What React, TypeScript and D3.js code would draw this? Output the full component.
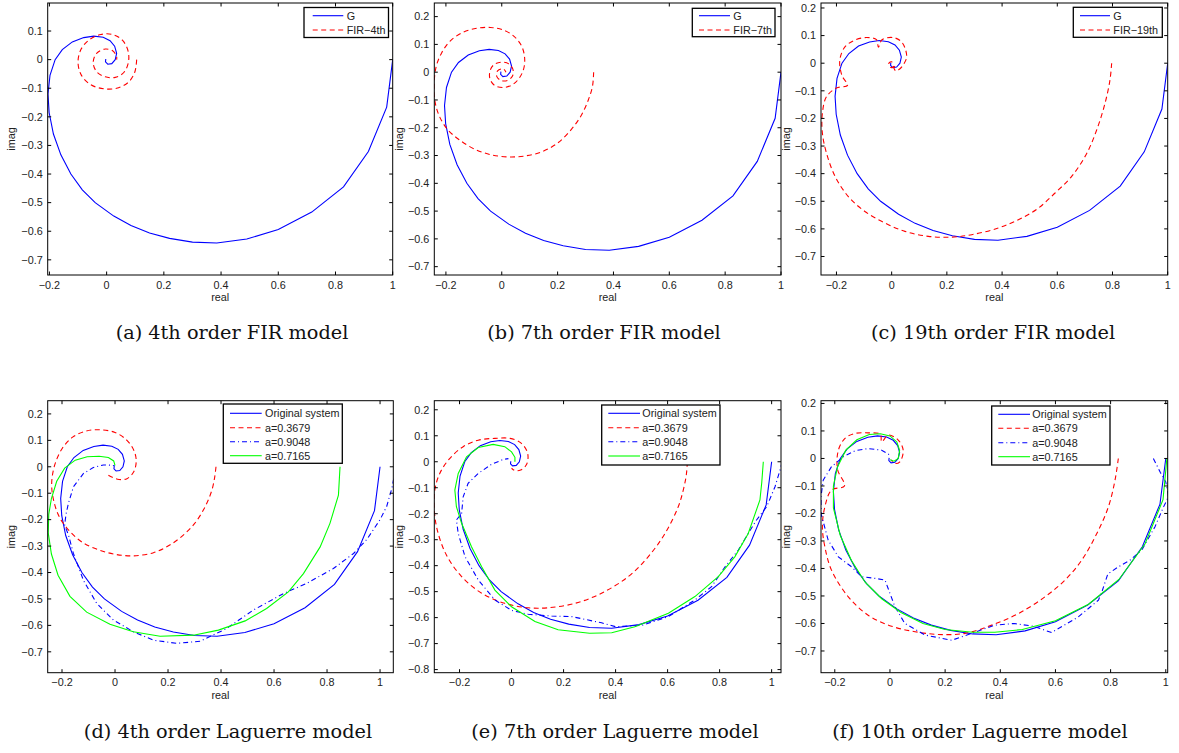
import React from 'react';
import * as d3 from 'd3';

type Pt = [number, number];

// frequency response of the true system (same in every panel)
const G: Pt[] = [
  [1.0, 0.0], [0.979, -0.166], [0.915, -0.321], [0.828, -0.445], [0.717, -0.533],
  [0.6, -0.594], [0.49, -0.627], [0.385, -0.641], [0.3, -0.638], [0.22, -0.625],
  [0.15, -0.606], [0.085, -0.58], [0.025, -0.547], [-0.04, -0.5], [-0.085, -0.455],
  [-0.125, -0.4], [-0.16, -0.333], [-0.186, -0.26], [-0.201, -0.185], [-0.205, -0.12],
  [-0.198, -0.055], [-0.18, 0.0], [-0.155, 0.035], [-0.12, 0.062], [-0.08, 0.077],
  [-0.045, 0.082], [-0.012, 0.078], [0.012, 0.066], [0.028, 0.047], [0.035, 0.022],
  [0.03, 0.0], [0.018, -0.014], [0.004, -0.016], [-0.004, -0.008], [-0.003, 0.002],
];

// FIR models
const FIR4: Pt[] = [
  [0.105, 0.0], [0.098, -0.045], [0.075, -0.08], [0.035, -0.1], [-0.01, -0.102],
  [-0.055, -0.088], [-0.088, -0.055], [-0.1, -0.01], [-0.09, 0.035], [-0.06, 0.07],
  [-0.02, 0.088], [0.02, 0.088], [0.055, 0.068], [0.075, 0.03], [0.076, -0.01],
  [0.06, -0.045], [0.03, -0.062], [-0.005, -0.06], [-0.035, -0.042], [-0.047, -0.01],
  [-0.035, 0.022], [-0.005, 0.037], [0.022, 0.03], [0.035, 0.01], [0.035, 0.0],
];
const FIR7: Pt[] = [
  [0.329, 0.0], [0.325, -0.05], [0.31, -0.1], [0.285, -0.155], [0.25, -0.205],
  [0.2, -0.255], [0.14, -0.288], [0.08, -0.302], [0.025, -0.305], [-0.035, -0.298],
  [-0.095, -0.278], [-0.15, -0.245], [-0.195, -0.205], [-0.225, -0.155], [-0.24, -0.1],
  [-0.242, -0.04], [-0.235, 0.02], [-0.215, 0.07], [-0.185, 0.112], [-0.14, 0.143],
  [-0.09, 0.158], [-0.04, 0.161], [0.005, 0.152], [0.045, 0.128], [0.072, 0.092],
  [0.082, 0.05], [0.078, 0.01], [0.06, -0.025], [0.035, -0.047], [0.005, -0.055],
  [-0.025, -0.048], [-0.042, -0.025], [-0.042, 0.005], [-0.028, 0.027], [-0.002, 0.036],
  [0.025, 0.03], [0.04, 0.01], [0.038, -0.015], [0.02, -0.03], [-0.002, -0.03],
  [-0.018, -0.015], [-0.015, 0.005], [0.005, 0.012], [0.015, 0.0],
];
const FIR19: Pt[] = [
  [0.797, 0.0], [0.791, -0.06], [0.773, -0.145], [0.743, -0.241], [0.707, -0.326],
  [0.652, -0.41], [0.592, -0.47], [0.531, -0.525], [0.459, -0.567], [0.386, -0.597],
  [0.29, -0.621], [0.217, -0.63], [0.133, -0.627], [0.048, -0.609], [-0.024, -0.579],
  [-0.097, -0.537], [-0.157, -0.483], [-0.205, -0.41], [-0.236, -0.326], [-0.251, -0.253],
  [-0.251, -0.181], [-0.236, -0.121], [-0.2, -0.09], [-0.16, -0.08], [-0.18, -0.045],
  [-0.188, 0.01], [-0.17, 0.058], [-0.135, 0.083], [-0.09, 0.093], [-0.055, 0.085],
  [-0.048, 0.058], [-0.035, 0.085], [0.005, 0.093], [0.035, 0.078], [0.05, 0.05],
  [0.054, 0.02], [0.042, -0.006], [0.03, -0.02], [0.015, -0.028], [0.005, -0.01],
  [0.0, 0.005], [-0.01, 0.0], [-0.005, -0.015], [0.01, -0.012], [0.02, 0.0],
];

// Laguerre models, 4th order
const LAG4_R: Pt[] = [
  [0.381, 0.0], [0.376, -0.04], [0.365, -0.09], [0.34, -0.151], [0.3, -0.215],
  [0.25, -0.265], [0.2, -0.3], [0.145, -0.325], [0.069, -0.337], [0.0, -0.331],
  [-0.06, -0.315], [-0.12, -0.288], [-0.17, -0.245], [-0.21, -0.19], [-0.232, -0.125],
  [-0.239, -0.063], [-0.228, 0.005], [-0.2, 0.068], [-0.16, 0.112], [-0.11, 0.135],
  [-0.057, 0.14], [0.0, 0.13], [0.045, 0.1], [0.072, 0.06], [0.08, 0.02],
  [0.07, -0.02], [0.045, -0.045], [0.015, -0.048], [-0.01, -0.04], [-0.025, -0.032],
];
const LAG4_B: Pt[] = [
  [1.06, 0.0], [1.045, -0.08], [1.025, -0.15], [1.0, -0.2], [0.95, -0.275],
  [0.9, -0.328], [0.824, -0.385], [0.723, -0.441], [0.635, -0.48], [0.522, -0.542],
  [0.421, -0.612], [0.321, -0.66], [0.233, -0.668], [0.145, -0.656], [0.069, -0.624],
  [-0.006, -0.58], [-0.069, -0.517], [-0.119, -0.43], [-0.157, -0.328], [-0.175, -0.26],
  [-0.19, -0.22], [-0.185, -0.18], [-0.176, -0.139], [-0.157, -0.076], [-0.119, -0.025],
  [-0.082, -0.003], [-0.044, 0.007], [-0.015, 0.006], [0.0, 0.003],
];
const LAG4_G: Pt[] = [
  [0.849, 0.0], [0.843, -0.107], [0.811, -0.214], [0.774, -0.303], [0.711, -0.404],
  [0.654, -0.473], [0.572, -0.536], [0.491, -0.583], [0.39, -0.618], [0.296, -0.637],
  [0.17, -0.641], [0.069, -0.624], [-0.019, -0.596], [-0.107, -0.55], [-0.17, -0.49],
  [-0.215, -0.41], [-0.24, -0.33], [-0.252, -0.25], [-0.25, -0.18], [-0.24, -0.12],
  [-0.22, -0.055], [-0.19, -0.005], [-0.15, 0.025], [-0.105, 0.038], [-0.06, 0.04],
  [-0.025, 0.035], [-0.005, 0.022], [0.0, 0.005],
];

// Laguerre models, 7th order
const LAG7_R: Pt[] = [
  [0.676, 0.0], [0.672, -0.05], [0.66, -0.11], [0.641, -0.173], [0.59, -0.276],
  [0.526, -0.365], [0.449, -0.442], [0.346, -0.506], [0.244, -0.545], [0.141, -0.562],
  [0.064, -0.562], [-0.026, -0.545], [-0.115, -0.506], [-0.192, -0.442], [-0.25, -0.36],
  [-0.285, -0.265], [-0.297, -0.186], [-0.295, -0.109], [-0.276, -0.045], [-0.24, 0.01],
  [-0.186, 0.058], [-0.128, 0.083], [-0.064, 0.09], [-0.006, 0.09], [0.038, 0.071],
  [0.062, 0.032], [0.058, -0.01], [0.035, -0.032], [0.013, -0.034], [0.0, -0.025],
];
const LAG7_B: Pt[] = [
  [1.04, 0.0], [1.036, -0.02], [1.013, -0.096], [0.981, -0.173], [0.942, -0.224],
  [0.91, -0.276], [0.872, -0.34], [0.821, -0.404], [0.769, -0.481], [0.705, -0.532],
  [0.603, -0.596], [0.5, -0.63], [0.4, -0.635], [0.346, -0.62], [0.231, -0.596],
  [0.154, -0.594], [0.064, -0.587], [0.0, -0.572], [-0.064, -0.532], [-0.128, -0.455],
  [-0.179, -0.365], [-0.205, -0.276], [-0.212, -0.224], [-0.192, -0.199], [-0.186, -0.135],
  [-0.167, -0.083], [-0.128, -0.045], [-0.077, -0.01], [-0.032, 0.009], [-0.012, 0.012],
];
const LAG7_G: Pt[] = [
  [0.968, 0.0], [0.962, -0.08], [0.955, -0.147], [0.91, -0.276], [0.859, -0.365],
  [0.795, -0.442], [0.705, -0.519], [0.603, -0.583], [0.474, -0.635], [0.385, -0.658],
  [0.3, -0.66], [0.179, -0.647], [0.09, -0.615], [0.0, -0.558], [-0.064, -0.494],
  [-0.115, -0.404], [-0.154, -0.327], [-0.192, -0.237], [-0.212, -0.173], [-0.218, -0.109],
  [-0.205, -0.045], [-0.173, 0.019], [-0.128, 0.055], [-0.071, 0.067], [-0.026, 0.058],
  [0.0, 0.038], [0.013, 0.017], [0.013, 0.0],
];

// Laguerre models, 10th order
const LAG10_R: Pt[] = [
  [0.828, 0.0], [0.816, -0.079], [0.792, -0.176], [0.75, -0.273], [0.695, -0.37],
  [0.635, -0.442], [0.562, -0.503], [0.466, -0.564], [0.369, -0.606], [0.272, -0.636],
  [0.175, -0.64], [0.091, -0.63], [0.006, -0.61], [-0.079, -0.57], [-0.151, -0.503],
  [-0.212, -0.406], [-0.236, -0.321], [-0.245, -0.248], [-0.236, -0.176], [-0.212, -0.115],
  [-0.165, -0.1], [-0.19, -0.04], [-0.187, 0.03], [-0.163, 0.073], [-0.127, 0.091],
  [-0.079, 0.093], [-0.035, 0.088], [-0.03, 0.06], [-0.006, 0.085], [0.03, 0.067],
  [0.048, 0.03], [0.036, -0.012], [0.018, -0.018], [0.005, -0.005],
];
const LAG10_B: Pt[] = [
  [0.955, 0.0], [0.98, -0.05], [1.0, -0.085], [1.01, -0.139], [0.992, -0.176],
  [0.961, -0.248], [0.913, -0.333], [0.87, -0.37], [0.828, -0.394], [0.79, -0.42],
  [0.77, -0.48], [0.756, -0.515], [0.683, -0.576], [0.586, -0.633], [0.52, -0.61],
  [0.45, -0.6], [0.381, -0.606], [0.296, -0.636], [0.224, -0.661], [0.127, -0.642],
  [0.054, -0.6], [0.018, -0.539], [-0.018, -0.442], [-0.054, -0.436], [-0.103, -0.43],
  [-0.139, -0.394], [-0.187, -0.358], [-0.224, -0.297], [-0.25, -0.2], [-0.25, -0.139],
  [-0.242, -0.079], [-0.212, -0.03], [-0.169, 0.006], [-0.127, 0.028], [-0.079, 0.036],
  [-0.03, 0.03], [0.0, 0.012],
];
const LAG10_G: Pt[] = [
  [1.004, 0.0], [0.99, -0.15], [0.925, -0.31], [0.83, -0.44], [0.72, -0.53],
  [0.6, -0.59], [0.48, -0.622], [0.38, -0.632], [0.3, -0.632], [0.2, -0.622],
  [0.12, -0.6], [0.04, -0.56], [-0.03, -0.51], [-0.09, -0.45], [-0.14, -0.37],
  [-0.18, -0.28], [-0.205, -0.18], [-0.205, -0.1], [-0.19, -0.03], [-0.16, 0.03],
  [-0.12, 0.068], [-0.075, 0.087], [-0.035, 0.09], [0.0, 0.082], [0.025, 0.06],
  [0.035, 0.03], [0.03, 0.0], [0.015, -0.01], [0.0, -0.005],
];

const X_TICKS = [-0.2, 0, 0.2, 0.4, 0.6, 0.8, 1];
const Y_TICKS_A = [-0.7, -0.6, -0.5, -0.4, -0.3, -0.2, -0.1, 0, 0.1];
const Y_TICKS = [-0.7, -0.6, -0.5, -0.4, -0.3, -0.2, -0.1, 0, 0.1, 0.2];
const Y_TICKS_E = [-0.8, -0.7, -0.6, -0.5, -0.4, -0.3, -0.2, -0.1, 0, 0.1, 0.2];

const LAG_LABELS = ['Original system', 'a=0.3679', 'a=0.9048', 'a=0.7165'];

const STYLES: Record<string, { color: string; dash?: string; smooth?: boolean }> = {
  solid: { color: '#0000ff' },
  dashed: { color: '#ff0000', dash: '5,3.5', smooth: true },
  dashdot: { color: '#0000ff', dash: '5,3,1,3' },
  green: { color: '#00ff00' },
};

const FONT = '"Liberation Sans", Arial, Helvetica, sans-serif';

interface PanelCfg {
  id: string;
  box: { l: number; r: number; t: number; b: number };
  xd: [number, number];
  yd: [number, number];
  yTicks: number[];
  series: { data: Pt[]; style: string }[];
  labels: string[];
  legend: { l: number; r: number; t: number; b: number; rows: number[]; lx: [number, number]; tx: number };
  caption: string;
  capX: number;
  capY: number;
  imagX: number;
}

const PANELS: PanelCfg[] = [
  {
    id: 'a', box: { l: 47.7, r: 392.7, t: 3, b: 275 }, xd: [-0.206, 1], yd: [-0.753, 0.198], yTicks: Y_TICKS_A,
    series: [{ data: G, style: 'solid' }, { data: FIR4, style: 'dashed' }], labels: ['G', 'FIR\u22124th'],
    legend: { l: 304, t: 7.5, r: 388.5, b: 37.5, rows: [15.7, 30], lx: [312.7, 343.3], tx: 346.7 },
    caption: '(a) 4th order FIR model', capX: 232, capY: 339, imagX: 15,
  },
  {
    id: 'b', box: { l: 434.3, r: 781, t: 3, b: 275 }, xd: [-0.2416, 1], yd: [-0.73, 0.249], yTicks: Y_TICKS,
    series: [{ data: G, style: 'solid' }, { data: FIR7, style: 'dashed' }], labels: ['G', 'FIR\u22127th'],
    legend: { l: 692.3, t: 8.3, r: 775, b: 36.7, rows: [15.7, 30], lx: [699, 730], tx: 733.3 },
    caption: '(b) 7th order FIR model', capX: 604, capY: 339, imagX: 403,
  },
  {
    id: 'c', box: { l: 821, r: 1167.7, t: 3, b: 275 }, xd: [-0.256, 1], yd: [-0.767, 0.218], yTicks: Y_TICKS,
    series: [{ data: G, style: 'solid' }, { data: FIR19, style: 'dashed' }], labels: ['G', 'FIR\u221219th'],
    legend: { l: 1073.3, t: 7.3, r: 1162.3, b: 37.3, rows: [15.7, 30], lx: [1080, 1110], tx: 1113.3 },
    caption: '(c) 19th order FIR model', capX: 993, capY: 339, imagX: 790,
  },
  {
    id: 'd', box: { l: 47.7, r: 393.3, t: 400.7, b: 672.7 }, xd: [-0.254, 1.05], yd: [-0.779, 0.25], yTicks: Y_TICKS,
    series: [{ data: G, style: 'solid' }, { data: LAG4_R, style: 'dashed' }, { data: LAG4_B, style: 'dashdot' }, { data: LAG4_G, style: 'green' }],
    labels: LAG_LABELS,
    legend: { l: 223.3, t: 404, r: 342.3, b: 463.3, rows: [413.3, 427.7, 441.7, 455.7], lx: [230, 261.7], tx: 265 },
    caption: '(d) 4th order Laguerre model', capX: 228, capY: 738, imagX: 15,
  },
  {
    id: 'e', box: { l: 434.3, r: 781, t: 400.7, b: 672.7 }, xd: [-0.297, 1.036], yd: [-0.812, 0.235], yTicks: Y_TICKS_E,
    series: [{ data: G, style: 'solid' }, { data: LAG7_R, style: 'dashed' }, { data: LAG7_B, style: 'dashdot' }, { data: LAG7_G, style: 'green' }],
    labels: LAG_LABELS,
    legend: { l: 601.7, t: 405, r: 720, b: 465, rows: [413.3, 427.7, 441.7, 456], lx: [608.3, 640], tx: 642.3 },
    caption: '(e) 7th order Laguerre model', capX: 615, capY: 738, imagX: 403,
  },
  {
    id: 'f', box: { l: 821, r: 1167.7, t: 400.7, b: 672.7 }, xd: [-0.25, 1.007], yd: [-0.779, 0.21], yTicks: Y_TICKS,
    series: [{ data: G, style: 'solid' }, { data: LAG10_R, style: 'dashed' }, { data: LAG10_B, style: 'dashdot' }, { data: LAG10_G, style: 'green' }],
    labels: LAG_LABELS,
    legend: { l: 991.7, t: 406, r: 1110, b: 465, rows: [414.3, 428.3, 442.7, 456.7], lx: [998.3, 1030], tx: 1032.3 },
    caption: '(f) 10th order Laguerre model', capX: 980, capY: 738, imagX: 790,
  },
];

const fmt = d3.format('.1~f');

function Panel({ cfg }: { cfg: PanelCfg }) {
  const { box, legend } = cfg;
  const x = d3.scaleLinear().domain(cfg.xd).range([box.l, box.r]);
  const y = d3.scaleLinear().domain(cfg.yd).range([box.b, box.t]);
  const tl = 3.5;
  const clipId = `clip-${cfg.id}`;
  const xt = X_TICKS.filter(v => v >= cfg.xd[0] - 1e-9 && v <= cfg.xd[1] + 1e-9);
  return (
    <g>
      <clipPath id={clipId}>
        <rect x={box.l} y={box.t} width={box.r - box.l} height={box.b - box.t} />
      </clipPath>
      <g clipPath={`url(#${clipId})`}>
        {cfg.series.map((s, i) => {
          const st = STYLES[s.style];
          const line = d3.line<Pt>().x(d => x(d[0])).y(d => y(d[1]))
            .curve(st.smooth ? d3.curveCatmullRom.alpha(0.5) : d3.curveLinear);
          return (
            <path key={i} d={line(s.data) || ''} fill="none" stroke={st.color} strokeWidth={1.1}
              strokeDasharray={st.dash} />
          );
        })}
      </g>
      {/* ticks on all four sides, pointing in */}
      {xt.map(v => (
        <g key={`x${v}`}>
          <line x1={x(v)} x2={x(v)} y1={box.b} y2={box.b - tl} stroke="#000" />
          <line x1={x(v)} x2={x(v)} y1={box.t} y2={box.t + tl} stroke="#000" />
          <text x={x(v)} y={box.b + 13.5} textAnchor="middle" fontSize={10.8} fontFamily={FONT} fill="#222">{fmt(v)}</text>
        </g>
      ))}
      {cfg.yTicks.map(v => (
        <g key={`y${v}`}>
          <line x1={box.l} x2={box.l + tl} y1={y(v)} y2={y(v)} stroke="#000" />
          <line x1={box.r} x2={box.r - tl} y1={y(v)} y2={y(v)} stroke="#000" />
          <text x={box.l - 5} y={y(v) + 3.8} textAnchor="end" fontSize={10.8} fontFamily={FONT} fill="#222">{fmt(v)}</text>
        </g>
      ))}
      <rect x={box.l} y={box.t} width={box.r - box.l} height={box.b - box.t} fill="none" stroke="#000" strokeWidth={1} />
      <text x={(box.l + box.r) / 2} y={box.b + 26} textAnchor="middle" fontSize={10.8} fontFamily={FONT} fill="#222">real</text>
      <text transform={`translate(${cfg.imagX},${(box.t + box.b) / 2}) rotate(-90)`} textAnchor="middle"
        fontSize={10.8} fontFamily={FONT} fill="#222">imag</text>

      {/* legend */}
      <rect x={legend.l} y={legend.t} width={legend.r - legend.l} height={legend.b - legend.t}
        fill="#fff" stroke="#000" strokeWidth={1.3} />
      {cfg.series.map((s, i) => {
        const st = STYLES[s.style];
        const ry = legend.rows[i];
        return (
          <g key={`lg${i}`}>
            <line x1={legend.lx[0]} x2={legend.lx[1]} y1={ry} y2={ry} stroke={st.color} strokeWidth={1.1}
              strokeDasharray={st.dash} />
            <text x={legend.tx} y={ry + 3.8} fontSize={10.8} fontFamily={FONT} fill="#222">{cfg.labels[i]}</text>
          </g>
        );
      })}

      <text x={cfg.capX} y={cfg.capY} textAnchor="middle" fontSize={19.3} fontFamily='"DejaVu Serif", serif' fill="#111">
        {cfg.caption}
      </text>
    </g>
  );
}

export default function App() {
  return (
    <div style={{ position: 'absolute', left: 0, top: 0 }}>
      <svg width={1179} height={753} style={{ display: 'block', background: '#fff' }}>
        {PANELS.map(p => <Panel key={p.id} cfg={p} />)}
      </svg>
    </div>
  );
}
